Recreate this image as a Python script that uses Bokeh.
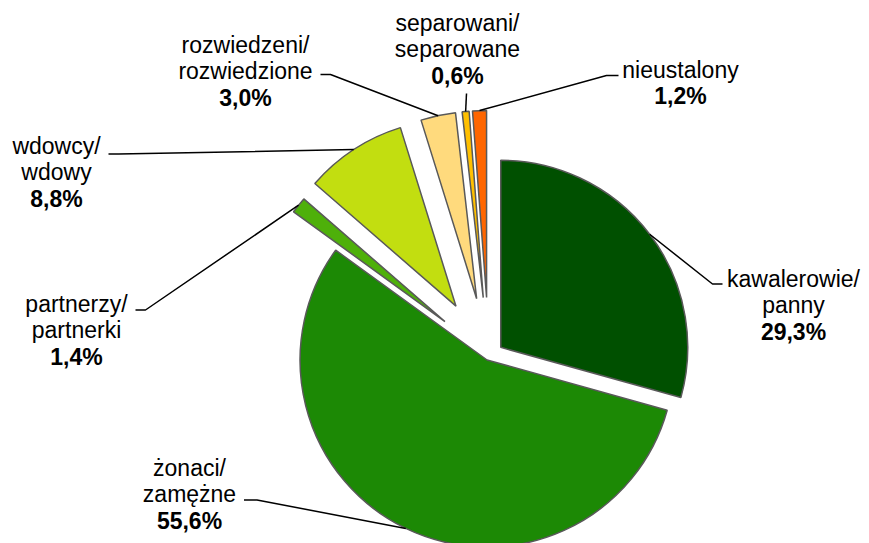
import numpy as np
from bokeh.plotting import figure
from bokeh.models import Range1d, ColumnDataSource
from bokeh.embed import file_html
from bokeh.resources import INLINE
from bokeh.core.properties import value

# ---------------- data ----------------
categories = ["kawalerowie/panny", "żonaci/zamężne", "partnerzy/partnerki",
              "wdowcy/wdowy", "rozwiedzeni/rozwiedzione",
              "separowani/separowane", "nieustalony"]
label_lines = [["kawalerowie/", "panny"], ["żonaci/", "zamężne"],
               ["partnerzy/", "partnerki"], ["wdowcy/", "wdowy"],
               ["rozwiedzeni/", "rozwiedzione"], ["separowani/", "separowane"],
               ["nieustalony"]]
shares = [29.3, 55.6, 1.4, 8.8, 3.0, 0.6, 1.2]
pct_labels = [f"{s:.1f}".replace(".", ",") + "%" for s in shares]

# ---------------- style ----------------
colors = ["#005000", "#1C8905", "#4EB00A", "#C2DE10", "#FFDA7D", "#FFC000", "#FF6600"]
explode = [15, 4, 56, 60, 59, 59, 59]        # px
W, H = 869, 543
cx, cy = 488.3, H - 355.9                    # pie centre (data units = px)
R = 187
FONT = value("Liberation Sans")
FS = "23px"
LINE_GAP = 26.5
TEXT_SHIFT = -8

# label anchors: (x centre, first baseline in screen px)
label_pos = [(793, 286), (189, 475), (76, 311), (56, 153), (245, 52), (457, 30), (680, 77)]
# leader start points (screen px); list of points before arc point
leader_pts = [[(722, 283.5), (712, 283.5)],
              [(243.5, 499.5), (256.5, 499.5)],
              [(135, 309.5), (145, 309.5)],
              [(108, 153.5), (118, 153.5)],
              [(320, 74), (330, 74)],
              [(466, 93)],
              [(618, 75), (606, 75)]]

total = sum(shares)
deg = np.array(shares) / total * 360.0
end_t = np.cumsum(deg)
start_t = end_t - deg
mid_t = np.radians((start_t + end_t) / 2)

wx = cx + np.array(explode) * np.sin(mid_t)
wy = cy + np.array(explode) * np.cos(mid_t)

src = ColumnDataSource(dict(
    x=wx, y=wy,
    start=np.radians(90 - end_t), end=np.radians(90 - start_t),
    color=colors, name=categories))

p = figure(width=W, height=H, output_backend="svg", toolbar_location=None,
           x_range=Range1d(0, W), y_range=Range1d(0, H),
           x_axis_location=None, y_axis_location=None, min_border=0,
           outline_line_color=None, background_fill_color="white",
           border_fill_color="white")
p.xgrid.grid_line_color = None
p.ygrid.grid_line_color = None

p.wedge(x="x", y="y", radius=R, start_angle="start", end_angle="end",
        direction="anticlock", fill_color="color", line_color="#595959",
        line_width=1.5, source=src)

# leader lines
xs, ys = [], []
for i, pts in enumerate(leader_pts):
    ax = wx[i] + R * np.sin(mid_t[i])
    ay = wy[i] + R * np.cos(mid_t[i])
    xs.append([q[0] for q in pts] + [ax])
    ys.append([H - q[1] for q in pts] + [ay])
p.multi_line(xs=xs, ys=ys, line_color="black", line_width=1.5)

# labels
tx, ty, tt, bx, by, bt = [], [], [], [], [], []
for i, lines in enumerate(label_lines):
    x0, b0 = label_pos[i]
    b0 = b0 + TEXT_SHIFT
    for j, ln in enumerate(lines):
        tx.append(x0); ty.append(H - (b0 + j * LINE_GAP)); tt.append(ln)
    bx.append(x0); by.append(H - (b0 + len(lines) * LINE_GAP)); bt.append(pct_labels[i])

p.text(x=tx, y=ty, text=tt, text_font=FONT, text_font_size=FS,
       text_align="center", text_baseline="alphabetic", text_color="black")
p.text(x=bx, y=by, text=bt, text_font=FONT, text_font_size=FS, text_font_style="bold",
       text_align="center", text_baseline="alphabetic", text_color="black")

open("out.html", "w").write(file_html(p, INLINE))
